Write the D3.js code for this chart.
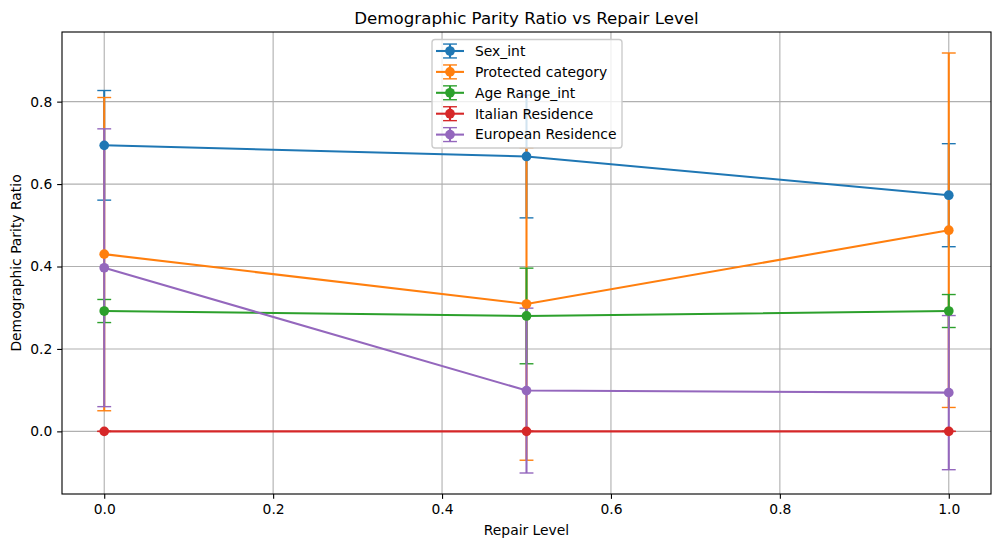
<html>
<script src="https://d3js.org/d3.v7.min.js"></script>
<body style="margin:0"></body>
<script>
const width = 1001;
const height = 547;
const margin = {left: 62, right: 10, top: 32, bottom: 53};

// repair levels on x
const repairLevels = [0.0, 0.5, 1.0];
const seriesNames = ['Sex_int', 'Protected category', 'Age Range_int', 'Italian Residence', 'European Residence'];
const colors = ['#1f77b4', '#ff7f0e', '#2ca02c', '#d62728', '#9467bd'];

// mean ratio per repair level
const sexMean = [0.694, 0.667, 0.573];
const protectedMean = [0.430, 0.309, 0.488];
const ageMean = [0.292, 0.280, 0.292];
const italianMean = [0.0, 0.0, 0.0];
const europeanMean = [0.397, 0.099, 0.094];

// std (error bars)
const sexErr = [0.133, 0.149, 0.125];
const protectedErr = [0.380, 0.379, 0.430];
const ageErr = [0.028, 0.116, 0.040];
const italianErr = [0.0, 0.0, 0.0];
const europeanErr = [0.337, 0.200, 0.187];

const xTicks = [0.0, 0.2, 0.4, 0.6, 0.8, 1.0];
const yTicks = [0.0, 0.2, 0.4, 0.6, 0.8];

const means = [sexMean, protectedMean, ageMean, italianMean, europeanMean];
const errs = [sexErr, protectedErr, ageErr, italianErr, europeanErr];

const series = seriesNames.map((name, i) => ({
    name: name,
    color: colors[i],
    points: repairLevels.map((x, j) => ({x: x, y: means[i][j], e: errs[i][j]}))
}));

const allPts = series.flatMap(s => s.points);
const lo = d3.min(allPts, d => d.y - d.e);
const hi = d3.max(allPts, d => d.y + d.e);
const pad = (hi - lo) * 0.05;

const x = d3.scaleLinear()
    .domain([-0.05, 1.05])
    .range([margin.left, width - margin.right - 0]);
const y = d3.scaleLinear()
    .domain([lo - pad, hi + pad])
    .range([height - margin.bottom, margin.top]);

const font = 'DejaVu Sans, sans-serif';
const pt = 100 / 72;
const markerR = 3.5 * pt; // 6pt marker + edge

const svg = d3.select('body')
    .append('svg')
        .attr('width', width)
        .attr('height', height)
        .style('font-family', font);

svg.append('rect').attr('width', width).attr('height', height).attr('fill', 'white');

// grid
const grid = svg.append('g').attr('stroke', '#b0b0b0').attr('stroke-width', 0.8 * pt);
grid.selectAll('.gx').data(xTicks).enter().append('line')
    .attr('x1', d => x(d)).attr('x2', d => x(d))
    .attr('y1', y.range()[0]).attr('y2', y.range()[1]);
grid.selectAll('.gy').data(yTicks).enter().append('line')
    .attr('x1', x.range()[0]).attr('x2', x.range()[1])
    .attr('y1', d => y(d)).attr('y2', d => y(d));

// axes
const xAxis = svg.append('g')
    .attr('transform', `translate(0,${height - margin.bottom})`)
    .call(d3.axisBottom(x).tickValues(xTicks).tickFormat(d3.format('.1f')).tickSize(3.5 * pt).tickPadding(3.5 * pt));
const yAxis = svg.append('g')
    .attr('transform', `translate(${margin.left},0)`)
    .call(d3.axisLeft(y).tickValues(yTicks).tickFormat(d3.format('.1f')).tickSize(3.5 * pt).tickPadding(3.5 * pt));
[xAxis, yAxis].forEach(a => {
    a.select('.domain').remove();
    a.selectAll('line').attr('stroke', 'black').attr('stroke-width', 0.8 * pt);
    a.selectAll('text').attr('font-size', 10 * pt).attr('font-family', font).attr('fill', 'black');
});

// error bars first, then lines + markers on top
const capW = 5 * pt;
series.forEach(s => {
    const g = svg.append('g').attr('stroke', s.color);
    g.selectAll('.bar').data(s.points).enter().append('line')
        .attr('x1', d => x(d.x)).attr('x2', d => x(d.x))
        .attr('y1', d => y(d.y - d.e)).attr('y2', d => y(d.y + d.e))
        .attr('stroke-width', 1.5 * pt);
    [-1, 1].forEach(sign => {
        g.selectAll('.cap' + sign).data(s.points).enter().append('line')
            .attr('x1', d => x(d.x) - capW).attr('x2', d => x(d.x) + capW)
            .attr('y1', d => y(d.y + sign * d.e)).attr('y2', d => y(d.y + sign * d.e))
            .attr('stroke-width', 1 * pt);
    });
});

const line = d3.line().x(d => x(d.x)).y(d => y(d.y));
series.forEach(s => {
    svg.append('path')
        .attr('d', line(s.points))
        .attr('fill', 'none')
        .attr('stroke', s.color)
        .attr('stroke-width', 1.5 * pt);
    svg.selectAll(null).data(s.points).enter().append('circle')
        .attr('cx', d => x(d.x)).attr('cy', d => y(d.y))
        .attr('r', markerR)
        .attr('fill', s.color);
});

// spines
svg.append('rect')
    .attr('x', x.range()[0]).attr('y', y.range()[1])
    .attr('width', x.range()[1] - x.range()[0])
    .attr('height', y.range()[0] - y.range()[1])
    .attr('fill', 'none').attr('stroke', 'black').attr('stroke-width', 0.8 * pt);

// titles
svg.append('text')
    .attr('x', (x.range()[0] + x.range()[1]) / 2).attr('y', 24)
    .attr('text-anchor', 'middle').attr('font-size', 12 * pt)
    .text('Demographic Parity Ratio vs Repair Level');
svg.append('text')
    .attr('x', (x.range()[0] + x.range()[1]) / 2).attr('y', 535)
    .attr('text-anchor', 'middle').attr('font-size', 10 * pt)
    .text('Repair Level');
svg.append('text')
    .attr('transform', `translate(21,${(y.range()[0] + y.range()[1]) / 2}) rotate(-90)`)
    .attr('text-anchor', 'middle').attr('font-size', 10 * pt)
    .text('Demographic Parity Ratio');

// legend
const legend = svg.append('g').attr('transform', 'translate(432,39.5)');
legend.append('rect')
    .attr('width', 190).attr('height', 108.5)
    .attr('rx', 3)
    .attr('fill', 'white').attr('fill-opacity', 0.8)
    .attr('stroke', '#cccccc').attr('stroke-width', 1 * pt);
legend.selectAll('g')
    .data(series)
    .enter()
    .append('g')
        .attr('transform', (d, i) => `translate(0,${11.5 + i * 20.9})`)
    .call(group => {
        group.append('line')
            .attr('x1', 4).attr('x2', 32)
            .attr('stroke', d => d.color).attr('stroke-width', 1.5 * pt);
        group.append('line')
            .attr('x1', 18).attr('x2', 18).attr('y1', -capW).attr('y2', capW)
            .attr('stroke', d => d.color).attr('stroke-width', 1.5 * pt);
        [-1, 1].forEach(sign => {
            group.append('line')
                .attr('x1', 18 - capW).attr('x2', 18 + capW)
                .attr('y1', sign * capW).attr('y2', sign * capW)
                .attr('stroke', d => d.color).attr('stroke-width', 1 * pt);
        });
        group.append('circle')
            .attr('cx', 18).attr('r', markerR)
            .attr('fill', d => d.color);
        group.append('text')
            .attr('x', 43).attr('dy', '0.35em')
            .attr('font-size', 10 * pt)
            .text(d => d.name);
    });
</script>
</html>
